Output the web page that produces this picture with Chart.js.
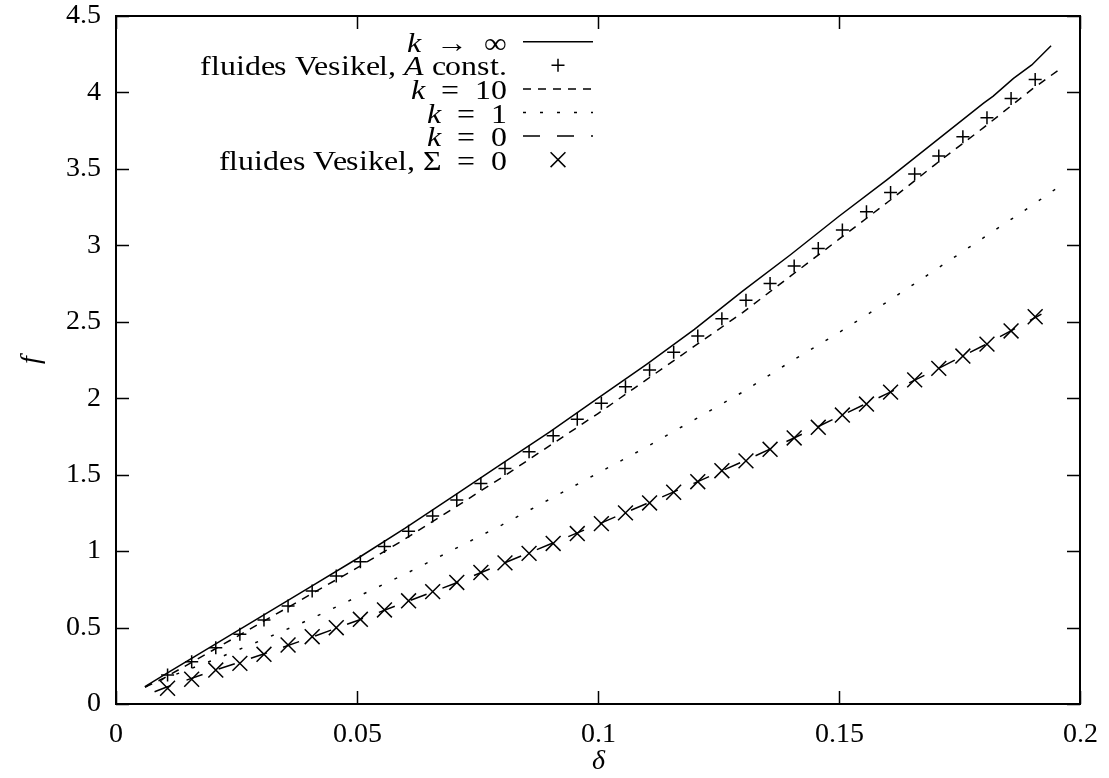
<!DOCTYPE html>
<html>
<head>
<meta charset="utf-8">
<script src="https://cdn.jsdelivr.net/npm/chart.js@4.4.1/dist/chart.umd.min.js"></script>
<style>
  @font-face { font-family: 'PlotSerif'; font-style: normal; src: local('Liberation Serif'), local('LiberationSerif'), local('LiberationSerif-Regular'); }
  @font-face { font-family: 'PlotSerif'; font-style: italic; src: local('Liberation Serif Italic'), local('LiberationSerif-Italic'); }
  html, body { margin: 0; padding: 0; background: #fff; }
  #wrap { width: 1109px; height: 778px; }
</style>
</head>
<body>
<div id="wrap"><canvas id="c" width="1109" height="778"></canvas></div>
<script>
// Tick positions and their printed labels
const xTickValues = [0, 0.05, 0.1, 0.15, 0.2];
const xTickLabels = ['0', '0.05', '0.1', '0.15', '0.2'];
const yTickValues = [0, 0.5, 1, 1.5, 2, 2.5, 3, 3.5, 4, 4.5];
const yTickLabels = ['0', '0.5', '1', '1.5', '2', '2.5', '3', '3.5', '4', '4.5'];

// k -> infinity (solid)
const kInfDelta = [0.006, 0.01, 0.02, 0.03, 0.04, 0.05, 0.06, 0.07, 0.08, 0.09, 0.10, 0.11, 0.12, 0.13, 0.14, 0.15, 0.16, 0.17, 0.18, 0.182, 0.1862, 0.19, 0.194];
const kInfF     = [0.113, 0.19, 0.38, 0.57, 0.76, 0.95, 1.15, 1.36, 1.57, 1.78, 2.00, 2.22, 2.45, 2.70, 2.94, 3.19, 3.43, 3.68, 3.93, 3.976, 4.092, 4.18, 4.305];

// k = 10 (dashed)
const k10Delta = [0.006, 0.01, 0.02, 0.03, 0.04, 0.05, 0.06, 0.07, 0.08, 0.09, 0.10, 0.11, 0.12, 0.13, 0.14, 0.15, 0.16, 0.17, 0.18, 0.19, 0.1957];
const k10F     = [0.11, 0.17, 0.35, 0.53, 0.71, 0.89, 1.08, 1.28, 1.48, 1.69, 1.90, 2.12, 2.34, 2.56, 2.80, 3.04, 3.28, 3.53, 3.77, 4.02, 4.15];

// k = 1 (dotted)
const k1Delta = [0.006, 0.01, 0.02, 0.03, 0.04, 0.05, 0.06, 0.07, 0.08, 0.09, 0.10, 0.11, 0.12, 0.13, 0.14, 0.15, 0.16, 0.17, 0.18, 0.19, 0.195];
const k1F     = [0.11, 0.165, 0.285, 0.415, 0.55, 0.70, 0.85, 1.01, 1.17, 1.34, 1.51, 1.68, 1.86, 2.04, 2.24, 2.43, 2.63, 2.84, 3.05, 3.26, 3.37];

// k = 0 (long dashes)
const k0Delta = [0.008, 0.01, 0.02, 0.03, 0.04, 0.05, 0.06, 0.07, 0.08, 0.09, 0.10, 0.11, 0.12, 0.13, 0.14, 0.15, 0.16, 0.17, 0.18, 0.19, 0.192];
const k0F     = [0.08, 0.105, 0.215, 0.32, 0.43, 0.545, 0.665, 0.785, 0.915, 1.045, 1.175, 1.31, 1.445, 1.585, 1.73, 1.88, 2.03, 2.185, 2.345, 2.515, 2.55];

// Vesikel fluid simulations (markers)
const vesDelta = [0.0107, 0.0157, 0.0207, 0.0257, 0.0307, 0.0357, 0.0407, 0.0457, 0.0507, 0.0557,
                  0.0607, 0.0657, 0.0707, 0.0757, 0.0807, 0.0857, 0.0907, 0.0957, 0.1007, 0.1057,
                  0.1107, 0.1157, 0.1207, 0.1257, 0.1307, 0.1357, 0.1407, 0.1457, 0.1507, 0.1557,
                  0.1607, 0.1657, 0.1707, 0.1757, 0.1807, 0.1857, 0.1907];
const vesAconstF = [0.19, 0.277, 0.368, 0.456, 0.549, 0.641, 0.739, 0.837, 0.931, 1.03,
                    1.13, 1.23, 1.335, 1.443, 1.54, 1.65, 1.755, 1.862, 1.967, 2.075,
                    2.184, 2.30, 2.407, 2.52, 2.64, 2.75, 2.865, 2.98, 3.10, 3.22,
                    3.346, 3.466, 3.584, 3.71, 3.834, 3.96, 4.085];
const vesSigma0F = [0.103, 0.162, 0.222, 0.266, 0.325, 0.386, 0.44, 0.499, 0.554, 0.615,
                    0.675, 0.735, 0.795, 0.86, 0.923, 0.985, 1.05, 1.115, 1.18, 1.25,
                    1.315, 1.385, 1.454, 1.526, 1.59, 1.666, 1.74, 1.81, 1.89, 1.962,
                    2.04, 2.12, 2.195, 2.276, 2.354, 2.44, 2.533];

const pts = (xs, ys) => xs.map((x, i) => ({ x: x, y: ys[i] }));

const SERIF = 'PlotSerif, "Liberation Serif", "DejaVu Serif", serif';
const FS = 28;       // tick labels
const KFS = 28;      // key and axis titles
const KSX = 1.14;    // horizontal stretch of key text

const lineDs = (label, xs, ys, dash) => ({
  label, data: pts(xs, ys), showLine: true, pointRadius: 0, pointHoverRadius: 0,
  borderColor: '#000', borderWidth: 1.5, borderDash: dash, fill: false, tension: 0
});
const markDs = (label, xs, ys, style, r) => ({
  label, data: pts(xs, ys), showLine: false, pointStyle: style, pointRadius: r,
  pointBorderColor: '#000', pointBackgroundColor: '#000', pointBorderWidth: 1.5,
  borderColor: '#000'
});

const datasets = [
  lineDs('k → ∞', kInfDelta, kInfF, []),
  markDs('fluides Vesikel, A const.', vesDelta, vesAconstF, 'cross', 6.5),
  lineDs('k = 10', k10Delta, k10F, [8, 7]),
  lineDs('k = 1', k1Delta, k1F, [3, 14]),
  lineDs('k = 0', k0Delta, k0F, [17, 17]),
  markDs('fluides Vesikel, Σ = 0', vesDelta, vesSigma0F, 'crossRot', 10.5)
];

// Key rows: text runs (italic flag) and the dataset whose sample is drawn beside them
const EN = '\u2002';
const legendRows = [
  { runs: [['k', true], [EN + '→' + EN + '∞', false]], ds: 0 },
  { runs: [['fluides Vesikel, ', false], ['A', true], [' const.', false]], ds: 1 },
  { runs: [['k', true], [EN + '=' + EN + '10', false]], ds: 2 },
  { runs: [['k', true], [EN + '=' + EN + '1', false]], ds: 3 },
  { runs: [['k', true], [EN + '=' + EN + '0', false]], ds: 4 },
  { runs: [['fluides Vesikel, Σ' + EN + '=' + EN + '0', false]], ds: 5 }
];

const frame = {
  id: 'frame',
  afterDatasetsDraw(chart) {
    const { ctx, chartArea: a, scales: { x, y } } = chart;
    ctx.save();
    ctx.strokeStyle = '#000';
    ctx.lineWidth = 1.5;
    ctx.setLineDash([]);
    // inward tics on all four sides
    const T = 13;
    ctx.beginPath();
    xTickValues.forEach(v => {
      const px = Math.round(x.getPixelForValue(v)) + 0.5;
      ctx.moveTo(px, a.bottom); ctx.lineTo(px, a.bottom - T);
      ctx.moveTo(px, a.top); ctx.lineTo(px, a.top + T);
    });
    yTickValues.forEach(v => {
      const py = Math.round(y.getPixelForValue(v)) + 0.5;
      ctx.moveTo(a.left, py); ctx.lineTo(a.left + T, py);
      ctx.moveTo(a.right, py); ctx.lineTo(a.right - T, py);
    });
    ctx.stroke();
    // border
    ctx.lineWidth = 2;
    ctx.strokeRect(a.left, a.top, a.right - a.left, a.bottom - a.top);

    // axis titles
    ctx.fillStyle = '#000';
    ctx.font = 'italic ' + KFS + 'px ' + SERIF;
    ctx.textAlign = 'center';
    ctx.textBaseline = 'middle';
    ctx.fillText('δ', (a.left + a.right) / 2, 762);
    ctx.save();
    ctx.translate(32, (a.top + a.bottom) / 2);
    ctx.rotate(-Math.PI / 2);
    ctx.fillText('f', 0, 0);
    ctx.restore();

    // key
    const textRight = 507, s0 = 523, s1 = 593, y0 = 41.7, dy = 23.6;
    legendRows.forEach((row, i) => {
      const yy = y0 + i * dy;
      let w = 0;
      const widths = row.runs.map(([t, it]) => {
        ctx.font = (it ? 'italic ' : '') + KFS + 'px ' + SERIF;
        const m = ctx.measureText(t).width; w += m; return m;
      });
      ctx.save();
      ctx.translate(textRight - w * KSX, 0);
      ctx.scale(KSX, 1);
      let xx = 0;
      ctx.textAlign = 'left';
      ctx.textBaseline = 'alphabetic';
      row.runs.forEach(([t, it], j) => {
        ctx.font = (it ? 'italic ' : '') + KFS + 'px ' + SERIF;
        ctx.fillText(t, xx, yy + 10);
        xx += widths[j];
      });
      ctx.restore();
      const ds = chart.data.datasets[row.ds];
      ctx.strokeStyle = '#000';
      ctx.lineWidth = 1.5;
      if (ds.showLine) {
        ctx.setLineDash(ds.borderDash || []);
        ctx.beginPath();
        ctx.moveTo(s0, yy); ctx.lineTo(s1, yy);
        ctx.stroke();
        ctx.setLineDash([]);
      } else {
        Chart.helpers.drawPoint(ctx, { pointStyle: ds.pointStyle, radius: ds.pointRadius, borderWidth: 1.5 }, (s0 + s1) / 2, yy);
      }
    });
    ctx.restore();
  }
};

function build() {
  new Chart(document.getElementById('c'), {
    type: 'scatter',
    data: { datasets },
    options: {
      responsive: false,
      animation: false,
      devicePixelRatio: 1,
      layout: { padding: { top: 16, right: 29, left: 0, bottom: 0 } },
      plugins: { legend: { display: false }, tooltip: { enabled: false } },
      scales: {
        x: {
          type: 'linear', min: 0, max: 0.2,
          afterFit: s => { s.height = 74; s.paddingLeft = 0; s.paddingRight = 0; },
          afterBuildTicks: s => { s.ticks = xTickValues.map(v => ({ value: v })); },
          grid: { display: false, drawTicks: false },
          border: { display: false },
          ticks: {
            color: '#000', padding: 14, maxRotation: 0, autoSkip: false,
            font: { family: SERIF, size: FS },
            callback: (v) => { const i = xTickValues.findIndex(t => Math.abs(t - v) < 1e-9); return i >= 0 ? xTickLabels[i] : ''; }
          }
        },
        y: {
          type: 'linear', min: 0, max: 4.5,
          afterFit: s => { s.width = 116; s.paddingTop = 0; s.paddingBottom = 0; },
          afterBuildTicks: s => { s.ticks = yTickValues.map(v => ({ value: v })); },
          grid: { display: false, drawTicks: false },
          border: { display: false },
          ticks: {
            color: '#000', padding: 15, autoSkip: false,
            font: { family: SERIF, size: FS },
            callback: (v) => { const i = yTickValues.findIndex(t => Math.abs(t - v) < 1e-9); return i >= 0 ? yTickLabels[i] : ''; }
          }
        }
      }
    }
  });
  // frame plugin registered per chart below
}

// wait for the serif faces, then paint
Promise.all([
  document.fonts.load(FS + 'px PlotSerif', '0.5 fluides'),
  document.fonts.load('italic ' + KFS + 'px PlotSerif', 'kAδf')
]).catch(() => {}).then(() => {
  Chart.register(frame);
  build();
});
</script>
</body>
</html>
